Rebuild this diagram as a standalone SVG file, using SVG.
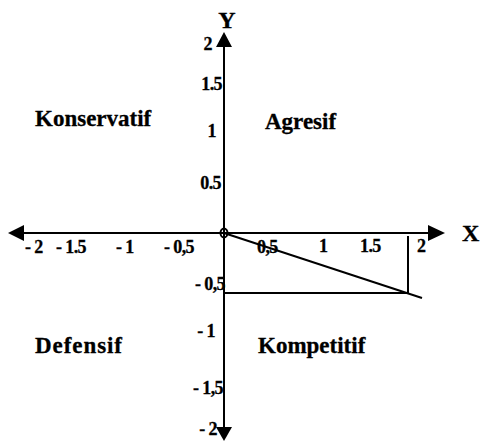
<svg xmlns="http://www.w3.org/2000/svg" width="481" height="443" viewBox="0 0 481 443">
<style>
text{font-family:"Liberation Serif","Times New Roman",serif;font-weight:bold;fill:#000;stroke:#000;stroke-width:0.3px}
.q{font-size:23px}
.t{font-size:18px;letter-spacing:-0.6px}
.ax{font-size:24px}
line{stroke:#000;stroke-width:2}
</style>
<rect width="481" height="443" fill="#fff"/>
<g id="connectors">
<line x1="20" y1="233" x2="430" y2="233"/>
<polygon points="8,233 24,225 24,241" fill="#000"/>
<polygon points="445,233 428,225 428,241" fill="#000"/>
<line x1="224" y1="44" x2="224" y2="430"/>
<polygon points="224,32 216,47 232,47" fill="#000"/>
<polygon points="224,441 216,427 232,427" fill="#000"/>
<ellipse cx="224" cy="233" rx="3.5" ry="4.5" fill="none" stroke="#000" stroke-width="2"/>
<line x1="224" y1="233" x2="422" y2="298" stroke-width="1.8"/>
<line x1="224" y1="293" x2="408" y2="293" stroke-width="1.8"/>
<line x1="408" y1="236" x2="408" y2="293" stroke-width="1.8"/>
</g>
<g id="axis-labels">
<text class="ax" x="227" y="28" text-anchor="middle">Y</text>
<text class="ax" x="462" y="241">X</text>
</g>
<g id="y-ticks">
<text class="t" x="212" y="50" text-anchor="end">2</text>
<text class="t" x="222" y="90" text-anchor="end">1.5</text>
<text class="t" x="216" y="137" text-anchor="end">1</text>
<text class="t" x="221" y="189" text-anchor="end">0.5</text>
<text class="t" x="225" y="290" text-anchor="end">- 0,5</text>
<text class="t" x="215" y="337" text-anchor="end">- 1</text>
<text class="t" x="223" y="394" text-anchor="end">- 1,5</text>
<text class="t" x="217" y="435" text-anchor="end">- 2</text>
</g>
<g id="x-ticks">
<text class="t" x="25" y="253">- 2</text>
<text class="t" x="56" y="253">- 1.5</text>
<text class="t" x="116" y="253">- 1</text>
<text class="t" x="164" y="253">- 0,5</text>
<text class="t" x="257" y="253">0,5</text>
<text class="t" x="319" y="252">1</text>
<text class="t" x="360" y="252">1.5</text>
<text class="t" x="417" y="252">2</text>
</g>
<g id="konservatif"><text class="q" x="35" y="126">Konservatif</text></g>
<g id="agresif"><text class="q" x="265" y="129">Agresif</text></g>
<g id="defensif"><text class="q" x="35" y="353" textLength="87">Defensif</text></g>
<g id="kompetitif"><text class="q" x="258" y="353">Kompetitif</text></g>
</svg>
